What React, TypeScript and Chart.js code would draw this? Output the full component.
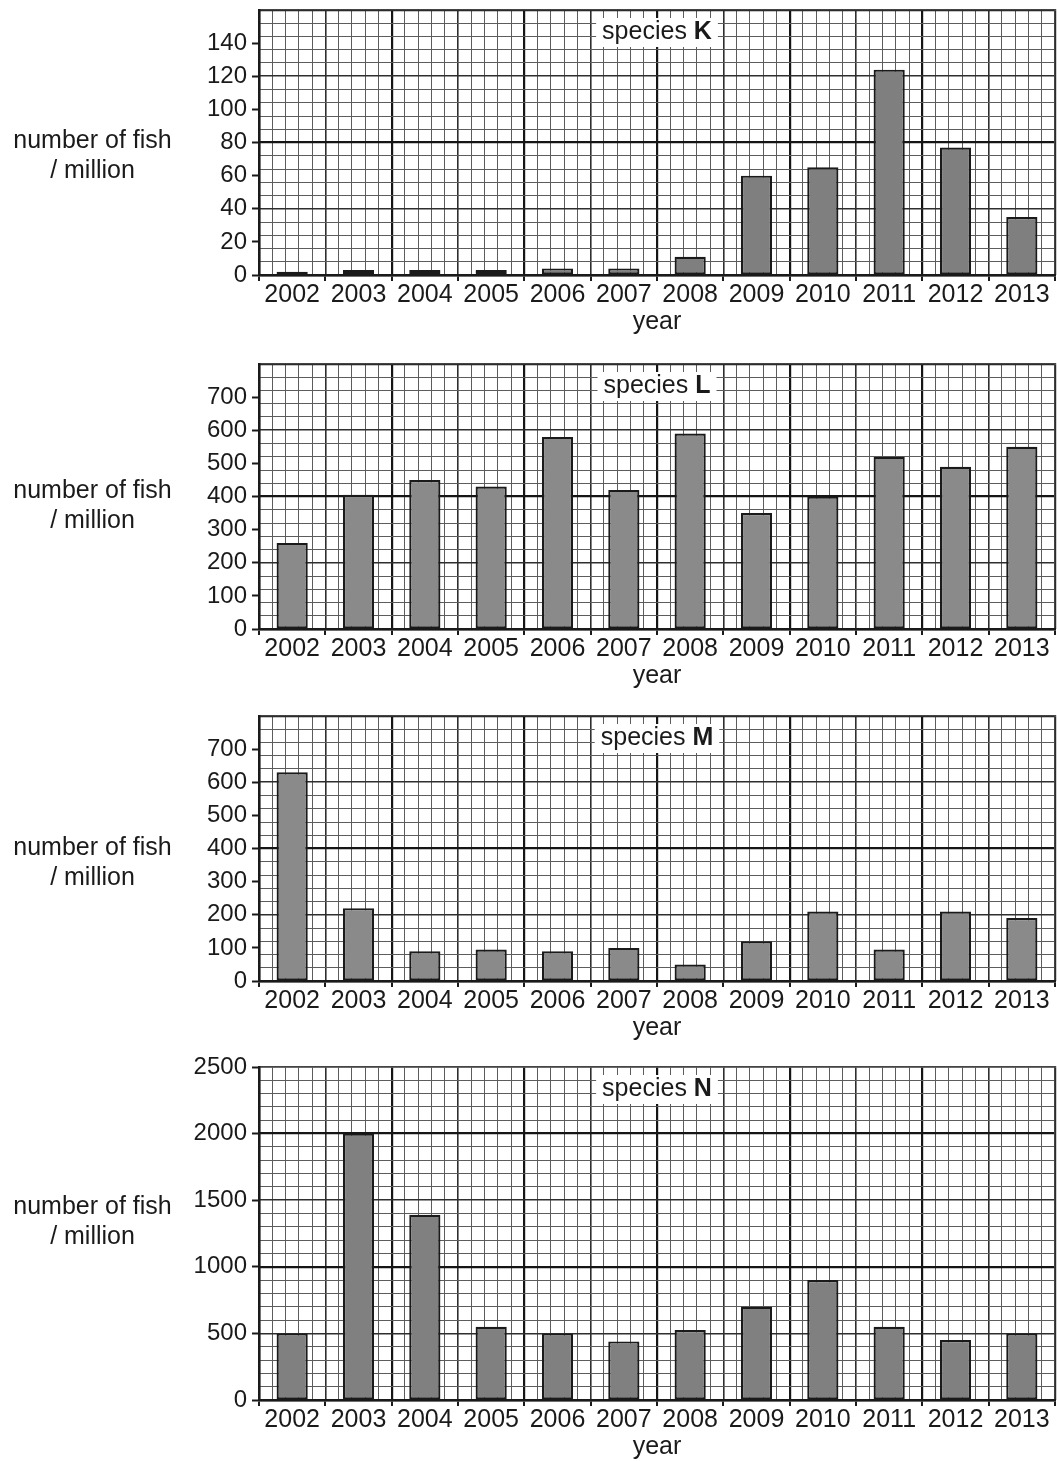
import React, { useEffect, useRef } from 'react';
import { Chart, registerables } from 'chart.js';

Chart.register(...registerables);

// ---- data ----
const years = ['2002', '2003', '2004', '2005', '2006', '2007', '2008', '2009', '2010', '2011', '2012', '2013'];
const speciesK = [2, 3, 3, 3, 4, 4, 11, 60, 65, 124, 77, 35];
const speciesL = [260, 405, 450, 430, 580, 420, 590, 350, 400, 520, 490, 550];
const speciesM = [630, 220, 90, 95, 90, 100, 50, 120, 210, 95, 210, 190];
const speciesN = [500, 2000, 1390, 550, 500, 440, 525, 700, 900, 550, 450, 500];

const ticksK = [0, 20, 40, 60, 80, 100, 120, 140];
const ticksL = [0, 100, 200, 300, 400, 500, 600, 700];
const ticksM = [0, 100, 200, 300, 400, 500, 600, 700];
const ticksN = [0, 500, 1000, 1500, 2000, 2500];

const FONT = '"Liberation Sans", Arial, Helvetica, sans-serif';
const TEXT = '#1a1a1a';
const CELLS_PER_YEAR = 5;

type PanelDef = {
  letter: string;
  data: number[];
  ticks: number[];
  max: number;
  cell: number;
  top: number;
  padTop: number;
  height: number;
  xAxisH: number;
  color: string;
  labelTop: number;
};

const panels: PanelDef[] = [
  { letter: 'K', data: speciesK, ticks: ticksK, max: 160, cell: 8, top: 0, padTop: 10, height: 337, xAxisH: 62, color: '#7f7f7f', labelTop: 124 },
  { letter: 'L', data: speciesL, ticks: ticksL, max: 800, cell: 40, top: 354, padTop: 10, height: 337, xAxisH: 62, color: '#8a8a8a', labelTop: 474 },
  { letter: 'M', data: speciesM, ticks: ticksM, max: 800, cell: 40, top: 706, padTop: 10, height: 337, xAxisH: 62, color: '#8a8a8a', labelTop: 831 },
  { letter: 'N', data: speciesN, ticks: ticksN, max: 2500, cell: 100, top: 1047, padTop: 20, height: 415, xAxisH: 62, color: '#808080', labelTop: 1190 },
];

const FINE = '#5c5c5c';
const MEDIUM = '#2e2e2e';
const HEAVY = '#151515';

function gridColor(cell: number) {
  return (ctx: any) => {
    if (!ctx.tick) return FINE;
    const i = Math.round(ctx.tick.value / cell);
    return i % 10 === 0 ? HEAVY : i % 5 === 0 ? MEDIUM : FINE;
  };
}
function gridWidth(cell: number) {
  return (ctx: any) => {
    if (!ctx.tick) return 1;
    const i = Math.round(ctx.tick.value / cell);
    return i % 10 === 0 ? 2.2 : i % 5 === 0 ? 1.6 : 1;
  };
}

const speciesLabelPlugin = {
  id: 'speciesLabel',
  beforeDatasetsDraw(chart: any, _args: any, opts: any) {
    const { ctx, chartArea } = chart;
    const cx = (chartArea.left + chartArea.right) / 2;
    const cy = chartArea.top + 22;
    ctx.save();
    ctx.font = `25px ${FONT}`;
    const w1 = ctx.measureText('species ').width;
    ctx.font = `bold 25px ${FONT}`;
    const w2 = ctx.measureText(opts.letter).width;
    const total = w1 + w2;
    ctx.fillStyle = '#ffffff';
    ctx.fillRect(cx - total / 2 - 6, chartArea.top + 8, total + 12, 29);
    ctx.fillStyle = TEXT;
    ctx.textBaseline = 'middle';
    ctx.textAlign = 'left';
    ctx.font = `25px ${FONT}`;
    ctx.fillText('species ', cx - total / 2, cy);
    ctx.font = `bold 25px ${FONT}`;
    ctx.fillText(opts.letter, cx - total / 2 + w1, cy);
    ctx.restore();
  },
};

function Panel({ p }: { p: PanelDef }) {
  const ref = useRef<HTMLCanvasElement>(null);
  useEffect(() => {
    if (!ref.current) return;
    const chart = new Chart(ref.current, {
      type: 'bar',
      data: {
        labels: years,
        datasets: [
          {
            data: p.data,
            backgroundColor: p.color,
            borderColor: '#1a1a1a',
            borderWidth: 2.2,
            borderSkipped: false,
            barPercentage: 0.47,
            categoryPercentage: 1,
            xAxisID: 'x',
            yAxisID: 'y',
          },
        ],
      },
      plugins: [speciesLabelPlugin],
      options: {
        animation: false,
        responsive: false,
        devicePixelRatio: 1,
        layout: { padding: { top: p.padTop, right: 2, left: 0, bottom: 0 } },
        plugins: {
          legend: { display: false },
          tooltip: { enabled: false },
          speciesLabel: { letter: p.letter },
        } as any,
        scales: {
          x: {
            type: 'category',
            position: 'bottom',
            offset: true,
            grid: { display: true, drawOnChartArea: false, drawTicks: true, tickLength: 6, offset: true, color: '#1a1a1a', lineWidth: 2 },
            border: { display: true, color: '#1a1a1a', width: 2.5, z: 1 },
            ticks: { font: { family: FONT, size: 25, lineHeight: 1 }, color: TEXT, padding: 2, autoSkip: false, maxRotation: 0, minRotation: 0 },
            title: { display: true, text: 'year', font: { family: FONT, size: 25, lineHeight: 1.2 }, color: TEXT, padding: { top: 0, bottom: 0 } },
            afterFit: (s: any) => {
              s.height = p.xAxisH;
              s.paddingLeft = 0;
              s.paddingRight = 0;
            },
          },
          y: {
            type: 'linear',
            position: 'left',
            min: 0,
            max: p.max,
            afterBuildTicks: (s: any) => { s.ticks = p.ticks.map((v) => ({ value: v })); },
            grid: { display: true, drawOnChartArea: false, drawTicks: true, tickLength: 7, tickColor: '#1a1a1a', tickWidth: 2 },
            border: { display: true, color: '#1a1a1a', width: 2.5, z: 1 },
            ticks: { font: { family: FONT, size: 24 }, color: TEXT, padding: 5, callback: (v: any) => String(v) },
            afterFit: (s: any) => {
              s.width = 259;
              s.paddingTop = 0;
              s.paddingBottom = 0;
            },
          },
          x2: {
            type: 'linear',
            position: 'top',
            min: 0,
            max: years.length * CELLS_PER_YEAR,
            offset: false,
            ticks: { display: false, stepSize: 1, maxTicksLimit: 1000 },
            grid: { display: true, offset: false, drawTicks: false, color: gridColor(1), lineWidth: gridWidth(1) },
            border: { display: true, color: '#444444', width: 1.5 },
            afterFit: (s: any) => {
              s.height = 0;
              s.paddingLeft = 0;
              s.paddingRight = 0;
            },
          },
          y2: {
            type: 'linear',
            position: 'right',
            min: 0,
            max: p.max,
            offset: false,
            ticks: { display: false, stepSize: p.cell, maxTicksLimit: 1000 },
            grid: { display: true, offset: false, drawTicks: false, color: gridColor(p.cell), lineWidth: gridWidth(p.cell) },
            border: { display: true, color: '#444444', width: 1.5 },
            afterFit: (s: any) => {
              s.width = 0;
              s.paddingTop = 0;
              s.paddingBottom = 0;
            },
          },
        } as any,
      },
    } as any);
    return () => chart.destroy();
  }, [p]);

  return (
    <>
      <div style={{ position: 'absolute', left: 0, top: p.top, width: 1057, height: p.height }}>
        <canvas ref={ref} width={1057} height={p.height} style={{ display: 'block', width: 1057, height: p.height }} />
      </div>
      <div
        style={{
          position: 'absolute',
          left: 0,
          top: p.labelTop,
          width: 185,
          textAlign: 'center',
          fontFamily: FONT,
          fontSize: 25,
          lineHeight: '30px',
          color: TEXT,
        }}
      >
        number of fish
        <br />/ million
      </div>
    </>
  );
}

export default function App() {
  return (
    <div style={{ position: 'absolute', left: 0, top: 0, width: 1057, height: 1461, overflow: 'hidden', background: '#ffffff' }}>
      {panels.map((p) => (
        <Panel key={p.letter} p={p} />
      ))}
    </div>
  );
}
